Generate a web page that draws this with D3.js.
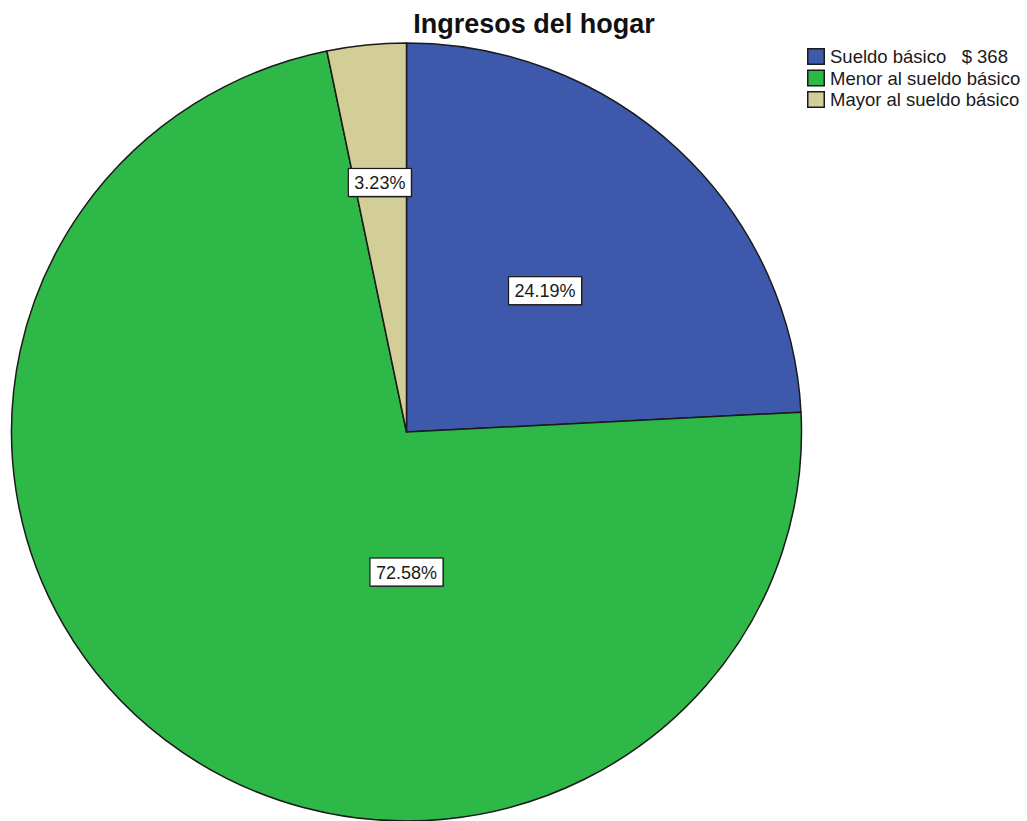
<!DOCTYPE html>
<html>
<head>
<meta charset="utf-8">
<script src="https://cdn.jsdelivr.net/npm/d3@7"></script>
<style>
  html, body { margin: 0; padding: 0; background: #fff; }
  svg { display: block; font-family: "Liberation Sans", Arial, sans-serif; }
</style>
</head>
<body>
<svg id="chart" width="1027" height="821"></svg>
<script>
// Household income categories and their shares (%)
const categories = ["Sueldo básico   $ 368", "Menor al sueldo básico", "Mayor al sueldo básico"];
const shares = [24.19, 72.58, 3.23];
const colors = ["#3E58AC", "#2EB848", "#D3CE97"];
const title = "Ingresos del hogar";

// Where each percentage box sits: polar angle (deg from top, clockwise) and radius fraction
const labelAngle = [44, 180, 354];
const labelRadius = [0.505, 0.36, 0.645];

const svg = d3.select("#chart");
const cx = 406.5, cy = 432, rx = 395, ry = 389;

svg.append("text")
  .attr("x", 534).attr("y", 33)
  .attr("text-anchor", "middle")
  .attr("font-size", 27).attr("font-weight", "bold")
  .attr("fill", "#111")
  .text(title);

const data = categories.map((c, i) => ({ name: c, value: shares[i], color: colors[i] }));
const pie = d3.pie().sort(null).value(d => d.value);
const arc = d3.arc().innerRadius(0).outerRadius(rx);

const g = svg.append("g")
  .attr("transform", `translate(${cx},${cy}) scale(1,${ry / rx})`);

g.selectAll("path")
  .data(pie(data))
  .join("path")
  .attr("d", arc)
  .attr("fill", d => d.data.color)
  .attr("stroke", "#1a1a1a")
  .attr("stroke-width", 1.5)
  .attr("stroke-linejoin", "round");

// Percentage boxes
const fmt = v => v.toFixed(2) + "%";
const labels = svg.append("g");
data.forEach((d, i) => {
  const a = labelAngle[i] * Math.PI / 180;
  const x = cx + Math.sin(a) * labelRadius[i] * rx;
  const y = cy - Math.cos(a) * labelRadius[i] * ry;
  const lg = labels.append("g").attr("transform", `translate(${x},${y})`);
  const t = lg.append("text")
    .attr("text-anchor", "middle")
    .attr("dy", "0.36em")
    .attr("font-size", 18)
    .attr("fill", "#1a1a1a")
    .text(fmt(d.value));
  const bb = t.node().getBBox();
  const w = bb.width + 12, h = 28;
  lg.insert("rect", "text")
    .attr("x", -w / 2 + 1).attr("y", -h / 2 + 1)
    .attr("width", w).attr("height", h)
    .attr("fill", "#444");
  lg.insert("rect", "text")
    .attr("x", -w / 2).attr("y", -h / 2)
    .attr("width", w).attr("height", h)
    .attr("fill", "#fff")
    .attr("stroke", "#1a1a1a")
    .attr("stroke-width", 1.2);
});

// Legend
const legend = svg.append("g").attr("transform", "translate(807,48)");
const row = legend.selectAll("g")
  .data(data)
  .join("g")
  .attr("transform", (d, i) => `translate(0,${i * 21.5})`);
row.append("rect")
  .attr("x", 0.75).attr("y", 0.75)
  .attr("width", 16.5).attr("height", 15.5)
  .attr("fill", d => d.color)
  .attr("stroke", "#1a1a1a")
  .attr("stroke-width", 1.5);
row.append("text")
  .attr("x", 23).attr("y", 8.5)
  .attr("dy", "0.36em")
  .attr("font-size", 18.5)
  .attr("fill", "#1a1a1a")
  .style("white-space", "pre")
  .text(d => d.name);
</script>
</body>
</html>
